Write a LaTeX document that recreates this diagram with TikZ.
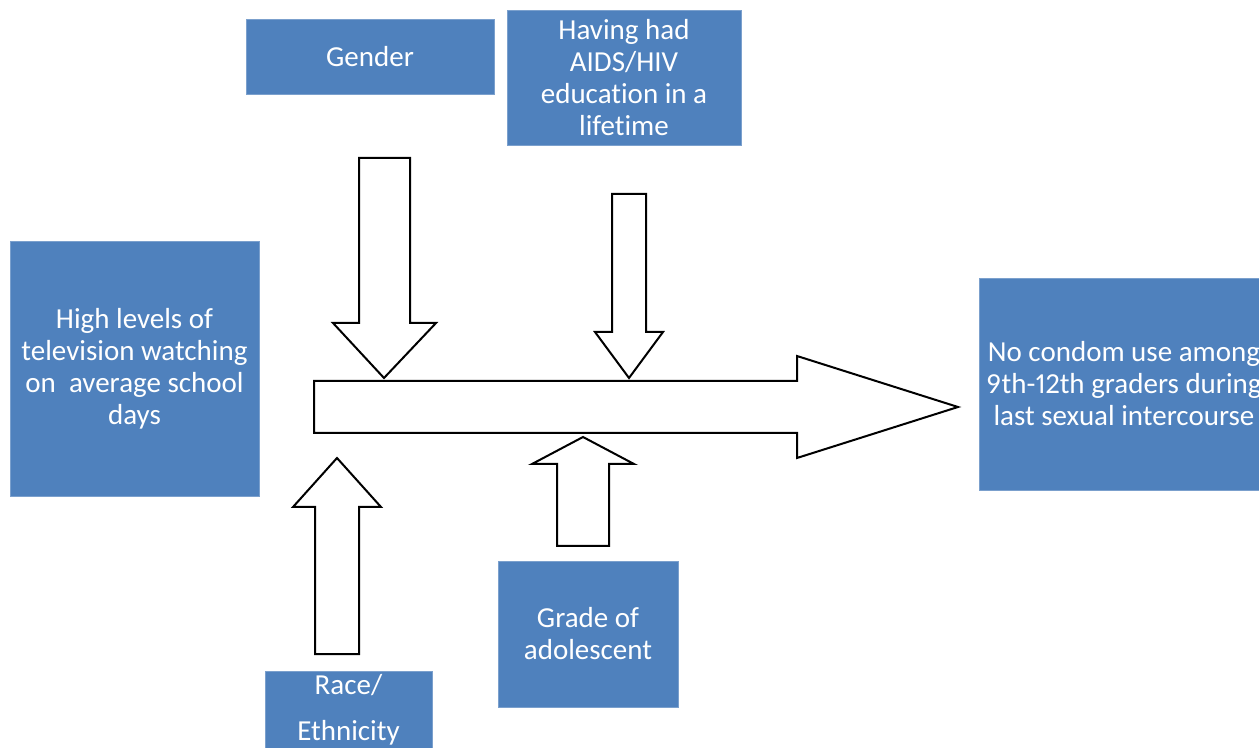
\documentclass[tikz,border=0pt]{standalone}
\usepackage{fontspec}
\setmainfont{Carlito}[Ligatures=NoCommon, Numbers=Proportional]
\definecolor{boxblue}{HTML}{4F81BD}
\begin{document}
\begin{tikzpicture}[x=0.5pt,y=-0.5pt,
  box/.style={fill=boxblue, draw=boxblue!75!white, line width=0.4pt, text=white,
    align=center, inner sep=0pt, font=\fontsize{14.5}{16}\selectfont},
  blockarrow/.style={draw=black, fill=white, line width=1pt, line join=miter}]
\clip (0,0) rectangle (1259,748);
\fill[white] (0,0) rectangle (1259,748);

% boxes
\node[box, minimum width=124pt, minimum height=37.5pt] (gender) at (370,56.5) {Gender};
\node[box, minimum width=117pt, minimum height=67.5pt] (aids) at (624,77.5) {Having had\\AIDS/HIV\\education in a\\lifetime};
\node[box, minimum width=124.5pt, minimum height=127.5pt] (tv) at (134.5,368.5) {High levels of\\television watching\\on~~average school\\days};
\node[box, minimum width=145pt, minimum height=106pt] (nocondom) at (1124,384) {No condom use among\\9th-12th graders during\\last sexual intercourse};
\node[box, minimum width=83.5pt, minimum height=39pt, font=\fontsize{14.5}{23}\selectfont] (race) at (348.5,710) {Race/\\Ethnicity};
\node[box, minimum width=90pt, minimum height=73pt] (grade) at (588,634) {Grade of\\adolescent};

% main block arrow
\draw[blockarrow] (314,381) -- (797,381) -- (797,356) -- (958,407) -- (797,458) -- (797,433) -- (314,433) -- cycle;
% gender down arrow
\draw[blockarrow] (359,158) -- (410,158) -- (410,323) -- (436,323) -- (384,378) -- (333,323) -- (359,323) -- cycle;
% aids down arrow
\draw[blockarrow] (612,194) -- (646,194) -- (646,332) -- (663,332) -- (629,378) -- (595,332) -- (612,332) -- cycle;
% race up arrow
\draw[blockarrow] (315,654) -- (359,654) -- (359,507) -- (381,507) -- (337,458) -- (293,507) -- (315,507) -- cycle;
% grade up arrow
\draw[blockarrow] (557,546) -- (609,546) -- (609,464) -- (634,464) -- (583,437) -- (532,464) -- (557,464) -- cycle;
\end{tikzpicture}
\end{document}
